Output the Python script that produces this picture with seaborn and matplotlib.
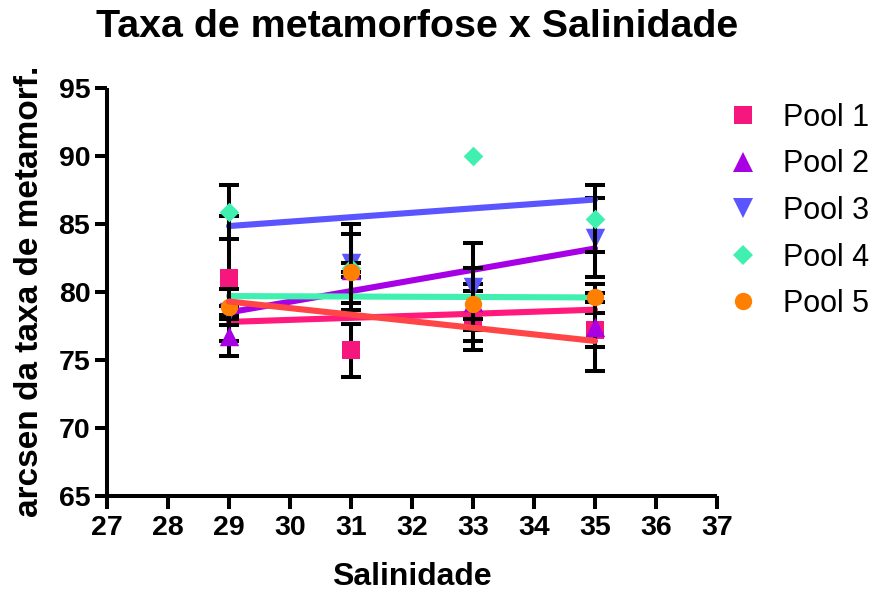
import numpy as np
import pandas as pd
import matplotlib
matplotlib.use("Agg")
import matplotlib.pyplot as plt
from matplotlib.lines import Line2D
import seaborn as sns

# Salinity levels tested
salinity = [29, 31, 33, 35]
pools = ["Pool 1", "Pool 2", "Pool 3", "Pool 4", "Pool 5"]

# Mean arcsin-transformed metamorphosis rate per pool
pool1_mean = [81.0, 75.7, 77.9, 77.2]
pool2_mean = [76.8, 81.6, 79.3, 77.4]
pool3_mean = [78.5, 82.1, 80.4, 84.0]
pool4_mean = [85.9, 81.8, 90.0, 85.4]
pool5_mean = [78.9, 81.5, 79.1, 79.6]

# Error (± deviation) per pool; None where no error bar exists
pool1_err = [4.6, 1.95, 2.2, 1.25]
pool2_err = [1.5, 0.5, 1.3, 3.2]
pool3_err = [0.5, 2.9, 3.2, 2.9]
pool4_err = [2.0, 0.3, None, 2.45]
pool5_err = [1.3, 2.8, 2.7, 0.3]

# Linear regression fits evaluated at the ends of the salinity range
fit_x = [29, 35]
fit_start = [77.8, 78.5, 84.85, 79.7, 79.3]
fit_end = [78.7, 83.2, 86.8, 79.6, 76.4]

y_ticks = [65, 70, 75, 80, 85, 90, 95]
x_ticks = [27, 28, 29, 30, 31, 32, 33, 34, 35, 36, 37]

means = [pool1_mean, pool2_mean, pool3_mean, pool4_mean, pool5_mean]
errs = [pool1_err, pool2_err, pool3_err, pool4_err, pool5_err]

marker_colors = ["#F5177E", "#A800E3", "#5A55FF", "#40F0B0", "#FF8000"]
line_colors = ["#FF1A7C", "#A800E6", "#5A55FF", "#40F0B0", "#FF4545"]
markers = ["s", "^", "v", "D", "o"]
msizes = [13.0, 14.0, 14.0, 10.0, 12.5]

sns.set_theme(style="ticks")
plt.rcParams["font.family"] = ["Liberation Sans", "DejaVu Sans"]
for key in ["text.color", "axes.labelcolor", "xtick.color", "ytick.color",
            "axes.edgecolor"]:
    plt.rcParams[key] = "black"

fig = plt.figure(figsize=(8.79, 5.92), dpi=100)
ax = fig.add_axes([107 / 879, 1 - 496 / 592, 610 / 879, 408 / 592])

handles = []
for i, name in enumerate(pools):
    df = pd.DataFrame({"sal": salinity, "val": means[i],
                       "err": [np.nan if e is None else e for e in errs[i]]})
    base = 3 + i * 3
    bars = df.dropna(subset=["err"])
    ax.errorbar(bars["sal"], bars["val"], yerr=bars["err"], fmt="none",
                ecolor="black", elinewidth=2.9, capsize=7, capthick=2.9,
                zorder=base)
    sns.scatterplot(data=df, x="sal", y="val", marker=markers[i],
                    color=marker_colors[i], s=(msizes[i] ** 2),
                    linewidth=0, ax=ax, zorder=base + 1, legend=False)
    fit_df = pd.DataFrame({"sal": fit_x, "val": [fit_start[i], fit_end[i]]})
    sns.lineplot(data=fit_df, x="sal", y="val", color=line_colors[i],
                 linewidth=4.4, ax=ax, zorder=base + 2, legend=False)
    handles.append(Line2D([], [], linestyle="none", marker=markers[i],
                          markersize=msizes[i], markerfacecolor=marker_colors[i],
                          markeredgewidth=0))

ax.set_xlim(27, 37)
ax.set_ylim(65, 95)
ax.set_xticks(x_ticks)
ax.set_yticks(y_ticks)
ax.set_xticklabels([str(t) for t in x_ticks], fontsize=20.5, fontweight="bold")
ax.set_yticklabels([str(t) for t in y_ticks], fontsize=20.5, fontweight="bold")
ax.tick_params(axis="both", length=9, width=2.9, color="black",
               labelcolor="black")
ax.tick_params(axis="x", pad=5)
ax.tick_params(axis="y", pad=3)
for side in ["top", "right"]:
    ax.spines[side].set_visible(False)
for side in ["left", "bottom"]:
    ax.spines[side].set_linewidth(2.9)
    ax.spines[side].set_color("black")
    ax.spines[side].set_capstyle("butt")

ax.set_xlabel("Salinidade", fontsize=23, fontweight="bold", color="black")
ax.set_ylabel("arcsen da taxa de metamorf.", fontsize=24, fontweight="bold",
              color="black")
ax.xaxis.set_label_coords(0.5, (496 - 577) / 408)
ax.xaxis.label.set_va("center")
ax.yaxis.set_label_coords((30 - 107) / 610, (496 - 291) / 408)
ax.yaxis.label.set_va("center")

fig.text(417 / 879, 1 - 27 / 592, "Taxa de metamorfose x Salinidade",
         fontsize=28.4, fontweight="bold", ha="center", va="center",
         color="black")

leg = ax.legend(handles, pools, loc="upper left",
                bbox_to_anchor=(728 / 879, 1 - 103 / 592),
                bbox_transform=fig.transFigure, frameon=False, borderpad=0,
                borderaxespad=0, handlelength=1.0, handletextpad=0.8,
                labelspacing=0.54, fontsize=22)
for t in leg.get_texts():
    t.set_color("black")

fig.savefig("out.png", dpi=100, facecolor="white")
